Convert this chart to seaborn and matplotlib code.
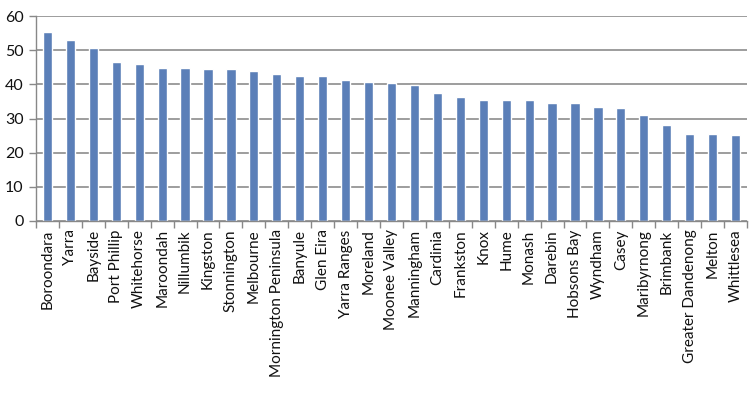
import matplotlib
matplotlib.use("Agg")
import matplotlib.pyplot as plt
from matplotlib.ticker import FixedLocator
import seaborn as sns
import pandas as pd

councils = ["Boroondara", "Yarra", "Bayside", "Port Phillip", "Whitehorse", "Maroondah",
            "Nillumbik", "Kingston", "Stonnington", "Melbourne", "Mornington Peninsula",
            "Banyule", "Glen Eira", "Yarra Ranges", "Moreland", "Moonee Valley",
            "Manningham", "Cardinia", "Frankston", "Knox", "Hume", "Monash", "Darebin",
            "Hobsons Bay", "Wyndham", "Casey", "Maribyrnong", "Brimbank",
            "Greater Dandenong", "Melton", "Whittlesea"]
values = [55.2, 52.9, 50.6, 46.5, 45.9, 44.9, 44.9, 44.6, 44.6, 43.9, 42.9,
          42.4, 42.4, 41.2, 40.6, 40.3, 39.8, 37.4, 36.4, 35.4, 35.4, 35.4, 34.5,
          34.4, 33.3, 33.1, 30.9, 28.1, 25.6, 25.6, 25.1]
yticks = [0, 10, 20, 30, 40, 50, 60]

df = pd.DataFrame({"council": councils, "value": values})

sns.set_style("white")
plt.rcParams["font.family"] = ["Lato", "DejaVu Sans"]

fig = plt.figure(figsize=(7.54, 3.95), dpi=100)
ax = fig.add_axes([36/754, 1-221/395, (747-36)/754, (221-16)/395])

sns.barplot(data=df, x="council", y="value", color="#5B7FB8", width=0.4,
            saturation=1, ax=ax)

ax.set_ylim(0, 60)
ax.set_xlim(-0.5, len(councils)-0.5)
ax.set_yticks(yticks)
ax.set_yticklabels([str(t) for t in yticks], fontsize=11.5, color="#111111")
ax.set_xticks(range(len(councils)))
ax.set_xticklabels(councils, rotation=90, fontsize=11, color="#111111")
ax.xaxis.set_minor_locator(FixedLocator([i - 0.5 for i in range(len(councils) + 1)]))
ax.tick_params(axis="x", which="major", length=0, pad=6)
ax.tick_params(axis="x", which="minor", length=5, width=1, color="#888888", bottom=True)
ax.tick_params(axis="y", length=5, width=1, color="#888888", left=True, pad=4)
ax.set_xlabel("")
ax.set_ylabel("")
ax.grid(axis="y", color="#8c8c8c", linewidth=1.2)
ax.set_axisbelow(True)
for s in ["top", "right"]:
    ax.spines[s].set_visible(False)
for s in ["left", "bottom"]:
    ax.spines[s].set_color("#888888")
    ax.spines[s].set_linewidth(1)

fig.savefig("out.png", dpi=100)
